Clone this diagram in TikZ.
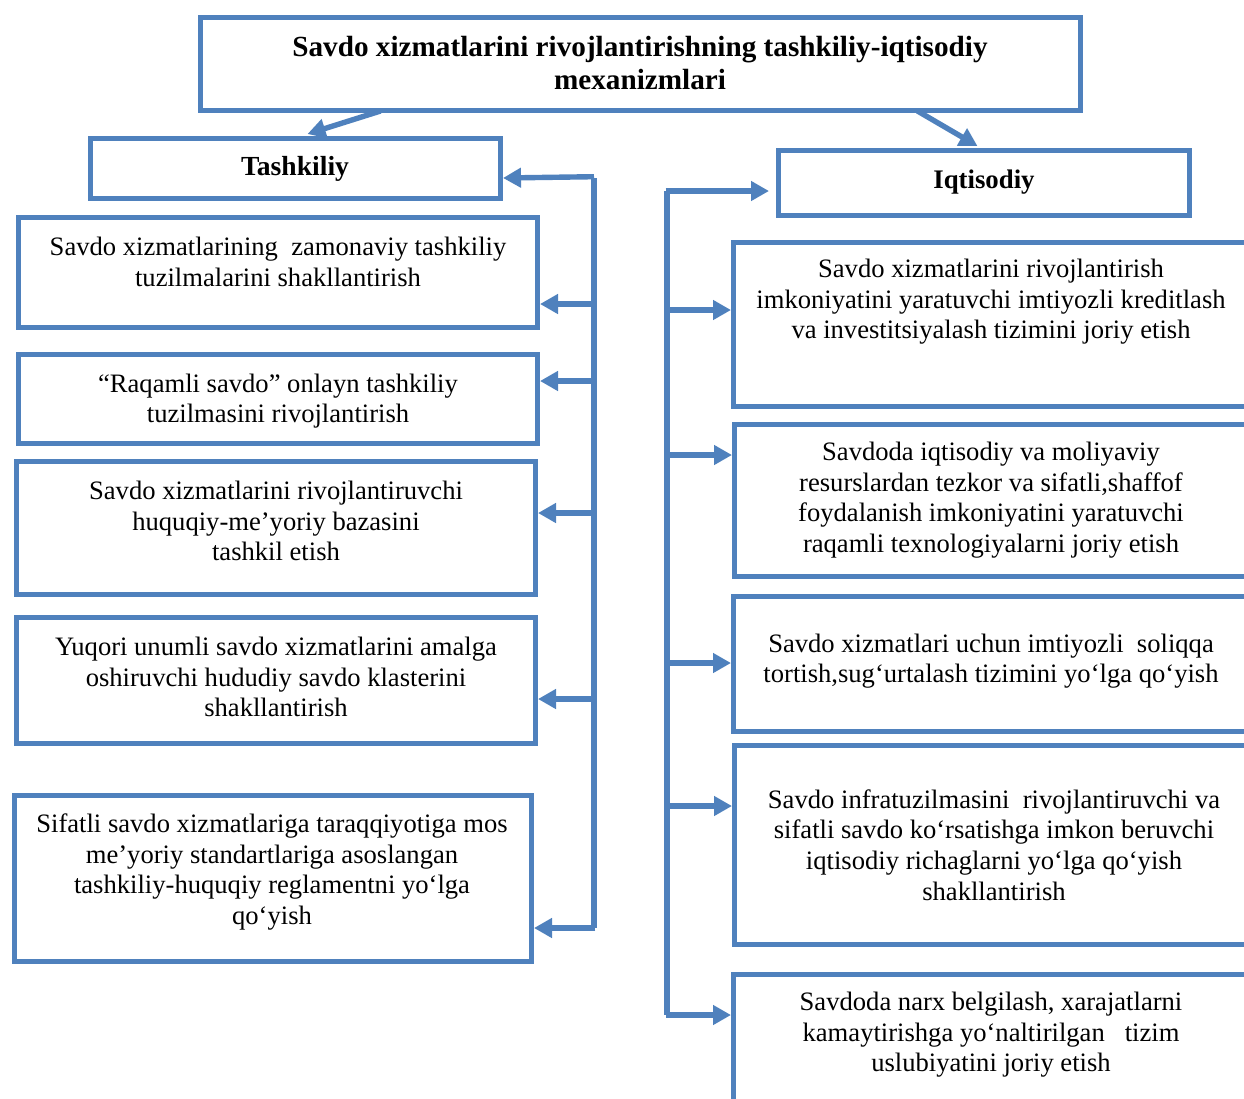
\documentclass[tikz,border=0pt]{standalone}
\usepackage{fontspec}
\setmainfont{Liberation Serif}
\usepackage{tikz}
\usetikzlibrary{calc,arrows.meta}
\definecolor{boxblue}{RGB}{79,129,189}

\begin{document}
\begin{tikzpicture}[x=0.5pt,y=-0.5pt,
    blk/.style={draw=boxblue,line width=2.5pt,rectangle,inner sep=0pt},
    txt/.style={align=center,inner sep=0pt,font=\fontsize{13.3}{15.3}\selectfont},
    arr/.style={draw=boxblue,line width=2.7pt,-{Triangle[length=9pt,width=9.5pt]}}]
  \path[use as bounding box] (0,0) rectangle (1244,1099);
  \begin{scope}
    \clip (0,0) rectangle (1244,1099);
    % heading boxes
    \node[blk,minimum width=440pt,minimum height=46.5pt] (title) at (640.5,64) {};
    \node[txt,font=\fontsize{14.6}{16.5}\selectfont\bfseries] (titletxt) at (640,63)
      {Savdo xizmatlarini rivojlantirishning tashkiliy-iqtisodiy\\mexanizmlari};
    \node[blk,minimum width=205pt,minimum height=30pt] (tash) at (295.5,168.5) {};
    \node[txt,font=\fontsize{13.8}{15.3}\selectfont\bfseries] (tashtxt) at (295,169) {Tashkiliy};
    \node[blk,minimum width=205.5pt,minimum height=32.5pt] (iqt) at (984,183) {};
    \node[txt,font=\fontsize{13.4}{15.3}\selectfont\bfseries] (iqttxt) at (984,182) {Iqtisodiy};

    % left column
    \node[blk,minimum width=259.5pt,minimum height=55pt] (l1) at (278,272.5) {};
    \node[blk,minimum width=259.5pt,minimum height=44.5pt] (l2) at (278,399) {};
    \node[blk,minimum width=259.5pt,minimum height=66.5pt] (l3) at (276,528) {};
    \node[blk,minimum width=259.5pt,minimum height=63pt] (l4) at (276,680.5) {};
    \node[blk,minimum width=258.5pt,minimum height=83pt] (l5) at (273,878.5) {};
    \node[txt] (l1txt) at (278,262) {Savdo xizmatlarining\ \ zamonaviy tashkiliy\\tuzilmalarini shakllantirish};
    \node[txt] (l2txt) at (278,401) {“Raqamli savdo” onlayn tashkiliy\\tuzilmasini rivojlantirish};
    \node[txt] (l3txt) at (276,521) {Savdo xizmatlarini rivojlantiruvchi\\huquqiy-me’yoriy bazasini\\tashkil etish};
    \node[txt] (l4txt) at (276,677) {Yuqori unumli savdo xizmatlarini amalga\\oshiruvchi hududiy savdo klasterini\\shakllantirish};
    \node[txt] (l5txt) at (272,872) {Sifatli savdo xizmatlariga taraqqiyotiga mos\\me’yoriy standartlariga asoslangan\\tashkiliy-huquqiy reglamentni yo‘lga\\qo‘yish};

    % right column, cut by the page edge
    \node[blk,minimum width=261pt,minimum height=82pt] (r1) at (994.5,324.5) {};
    \node[blk,minimum width=261pt,minimum height=76pt] (r2) at (995.5,500.5) {};
    \node[blk,minimum width=261pt,minimum height=67.5pt] (r3) at (994.5,664) {};
    \node[blk,minimum width=261pt,minimum height=99.5pt] (r4) at (995.5,845) {};
    \node[blk,minimum width=261pt,minimum height=80pt] (r5) at (994.5,1054.5) {};
    \node[txt] (r1txt) at (991,302) {Savdo xizmatlarini rivojlantirish\\imkoniyatini yaratuvchi imtiyozli kreditlash\\va investitsiyalash tizimini joriy etish};
    \node[txt] (r2txt) at (991,500) {Savdoda iqtisodiy va moliyaviy\\resurslardan tezkor va sifatli,shaffof\\foydalanish imkoniyatini yaratuvchi\\raqamli texnologiyalarni joriy etish};
    \node[txt] (r3txt) at (991,661) {Savdo xizmatlari uchun imtiyozli\ \ soliqqa\\tortish,sug‘urtalash tizimini yo‘lga qo‘yish};
    \node[txt] (r4txt) at (994,845) {Savdo infratuzilmasini\ \ rivojlantiruvchi va\\sifatli savdo ko‘rsatishga imkon beruvchi\\iqtisodiy richaglarni yo‘lga qo‘yish\\shakllantirish};
    \node[txt] (r5txt) at (991,1035) {Savdoda narx belgilash, xarajatlarni\\kamaytirishga yo‘naltirilgan\ \ \ tizim\\uslubiyatini joriy etish};
  \end{scope}

  % arrows from the heading
  \draw[arr] ($(title.south west)+(182.5,-2)$) -- ($(tash.north west)+(219.5,-2)$);
  \draw[arr] ($(title.south west)+(719.5,-2)$) -- ($(iqt.north west)+(201.5,-2)$);

  % left bus
  \coordinate (lt) at (594,178);
  \coordinate (lb) at (594,928);
  \draw[draw=boxblue,line width=2.7pt] (lt) -- (lb);
  \draw[arr] ($(lt)+(0,-1.3)$) -- (lt -| tash.east);
  \foreach \b/\y in {l1/304,l2/381,l3/513,l4/699} {
    \coordinate (lb\b) at (594,\y);
    \draw[arr] (lb\b) -- (lb\b -| \b.east);
  }
  \draw[arr] ($(lb)+(1.3,0)$) -- (lb -| l5.east);

  % right bus
  \coordinate (rt) at (667,191);
  \coordinate (rb) at (667,1015);
  \draw[draw=boxblue,line width=2.7pt] (rt) -- (rb);
  \draw[arr] ($(rt)+(-1.3,0)$) -- ($(rt -| iqt.west)+(-7,0)$);
  \foreach \b/\y in {r1/310,r2/455,r3/663,r4/806} {
    \coordinate (rb\b) at (667,\y);
    \draw[arr] (rb\b) -- (rb\b -| \b.west);
  }
  \draw[arr] ($(rb)+(-1.3,0)$) -- (rb -| r5.west);
\end{tikzpicture}
\end{document}
